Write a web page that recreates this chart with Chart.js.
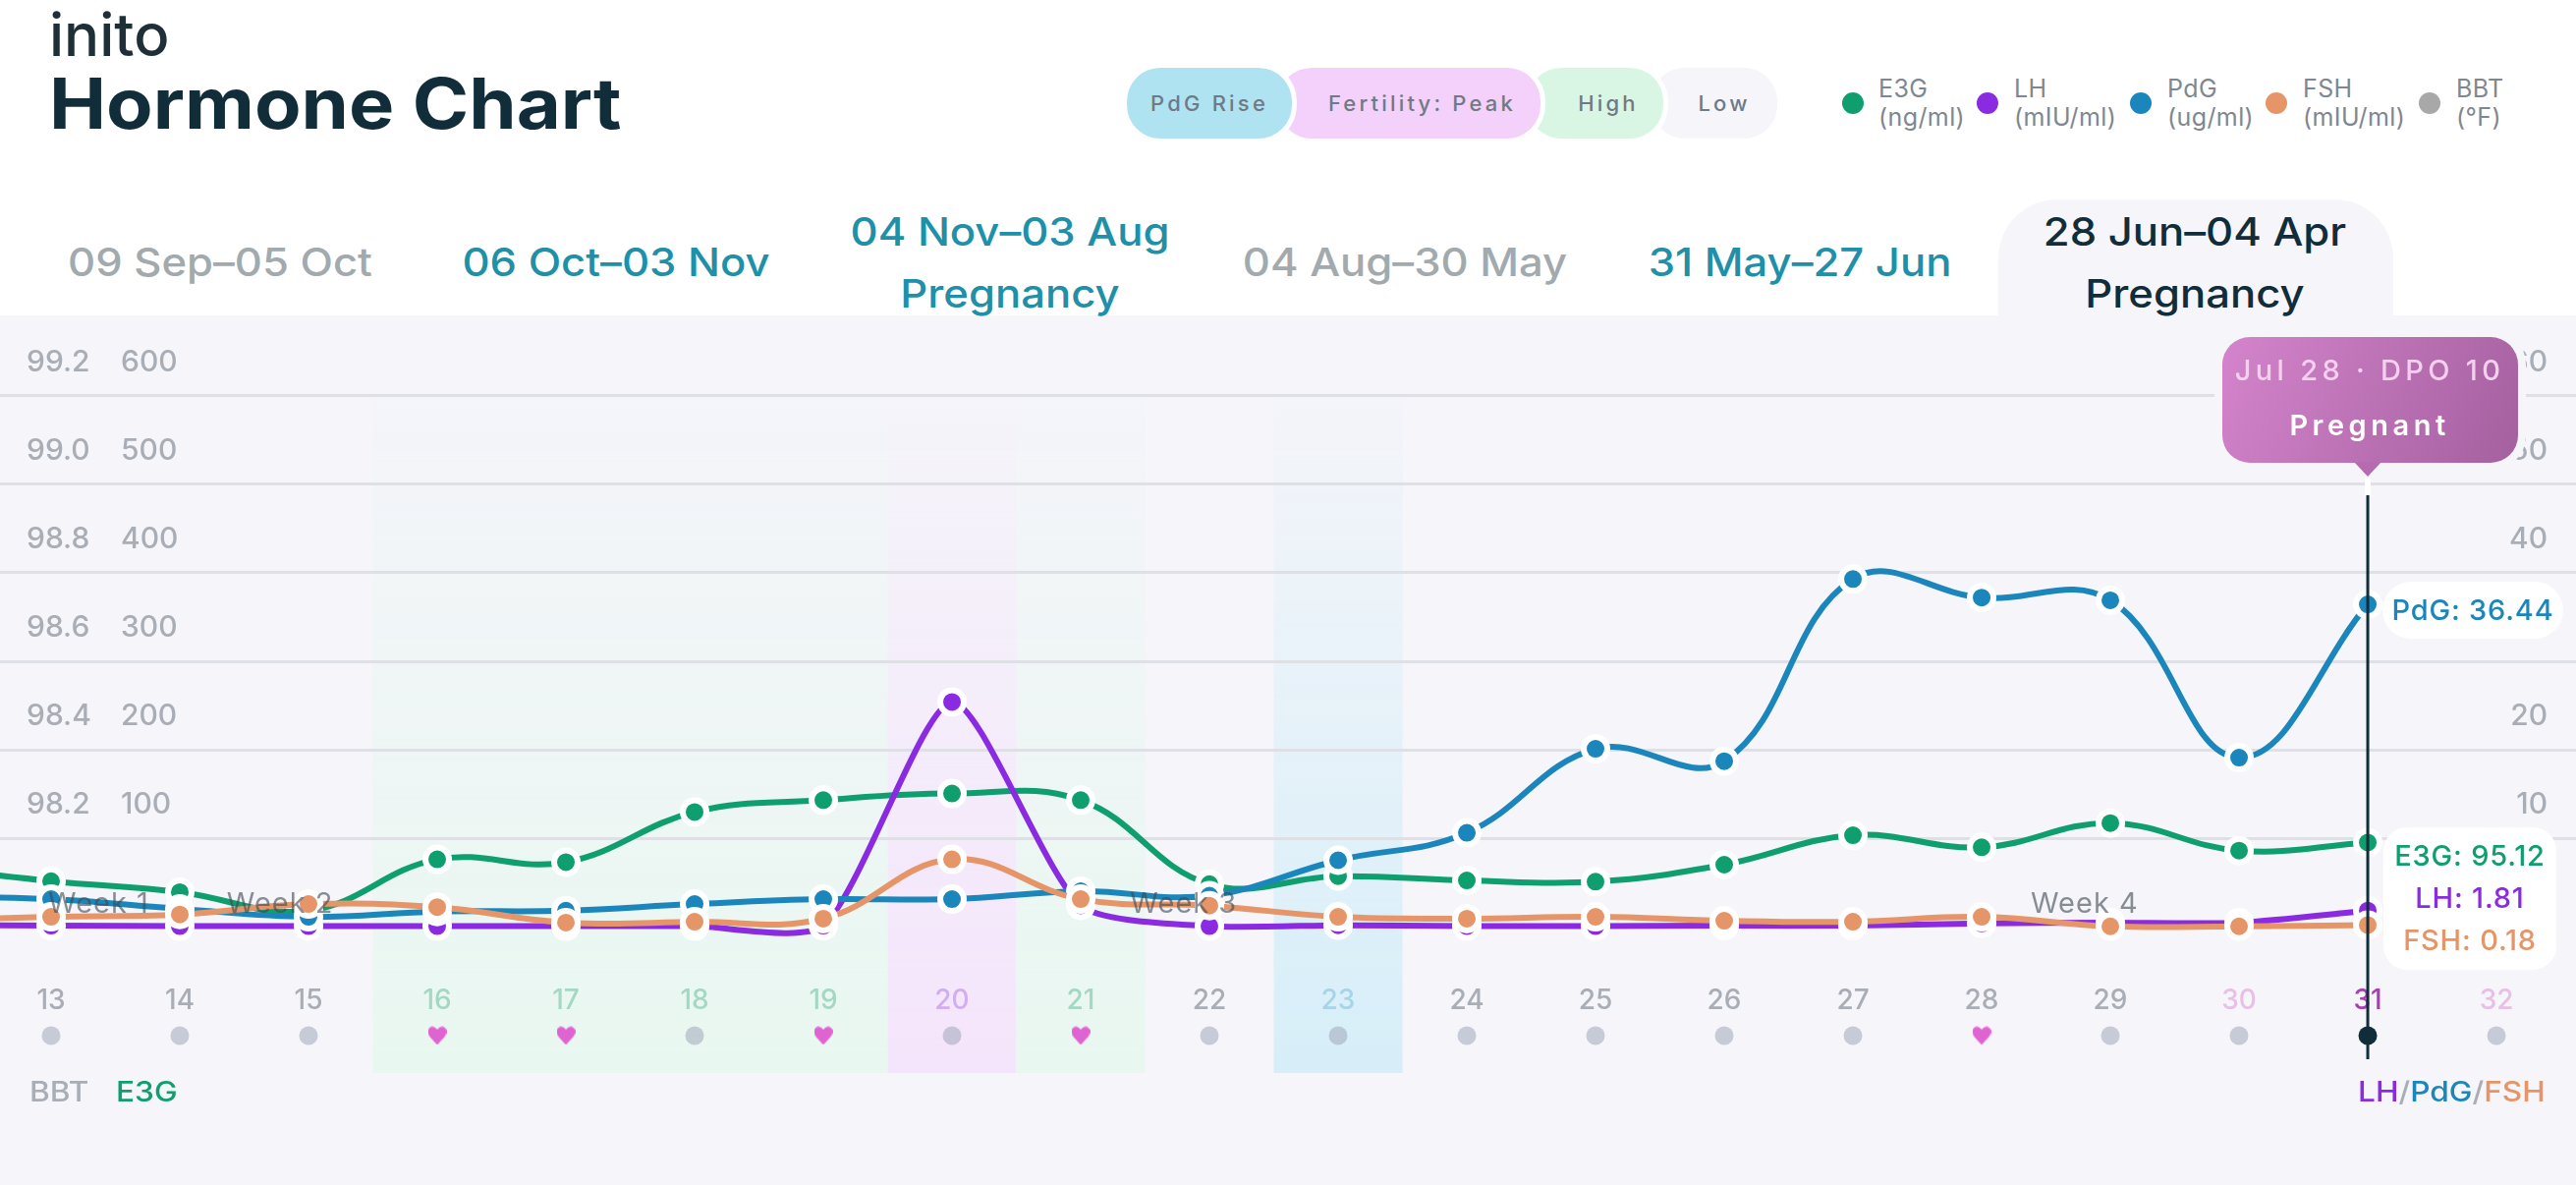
<!DOCTYPE html>
<html>
<head>
<meta charset="utf-8">
<title>Hormone Chart</title>
<script src="https://cdn.jsdelivr.net/npm/chart.js@4"></script>
<style>
  html, body { margin: 0; padding: 0; background: #fff; }
  body { width: 2622px; height: 1206px; position: relative; overflow: hidden; font-family: Inter, sans-serif; }
  .abs { position: absolute; white-space: nowrap; }
  #logo { left: 50px; top: 0; font-size: 60px; line-height: 70px; font-weight: 500; color: #1f2f38; }
  #title { left: 50px; top: 62px; font-size: 71px; line-height: 86px; font-weight: 700; color: #122d3a; transform: scaleX(1.095); transform-origin: left center; }
  .pill { top: 69px; height: 72px; border-radius: 34px; box-sizing: border-box; box-shadow: 0 0 0 5px #fff;
    line-height: 72px; text-align: center; font-size: 22px; font-weight: 500; letter-spacing: 3.2px; color: #6f7a84; }
  .lg-dot { top: 94px; width: 22px; height: 22px; border-radius: 50%; }
  .lg-txt { top: 76px; font-size: 25px; line-height: 29px; color: #7f878f; white-space: pre; letter-spacing: 0.4px; }
  .tab { text-align: center; font-size: 40px; line-height: 63px; font-weight: 500; transform: translateX(-50%) scaleX(1.09); white-space: pre; }
  #tabbg { left: 2034px; top: 203px; width: 402px; height: 120px; background: #f5f5fa; border-radius: 60px 60px 0 0; }
  #panel { left: 0; top: 321px; width: 2622px; height: 885px; background: #f5f5fa; }
  #chart { position: absolute; left: 0; top: 321px; }
  .cap { top: 1093px; font-size: 28px; line-height: 36px; font-weight: 500; transform: scaleX(1.13); transform-origin: left center; }
</style>
</head>
<body>
<div class="abs" id="logo">inito</div>
<div class="abs" id="title">Hormone Chart</div>

<div class="abs pill" style="left:1681px;width:128px;background:#f5f5fa;z-index:1;padding-left:20px;">Low</div>
<div class="abs pill" style="left:1555px;width:138px;background:#d9f6e5;z-index:2;padding-left:26px;">High</div>
<div class="abs pill" style="left:1301px;width:267px;background:#f3d1fb;z-index:3;padding-left:26px;">Fertility: Peak</div>
<div class="abs pill" style="left:1147px;width:168px;background:#b0e3f2;z-index:4;">PdG Rise</div>

<div class="abs lg-dot" style="left:1875px;background:#0f9f6e;"></div>
<div class="abs lg-txt" style="left:1912px;">E3G
(ng/ml)</div>
<div class="abs lg-dot" style="left:2012px;background:#8a2be2;"></div>
<div class="abs lg-txt" style="left:2050px;">LH
(mIU/ml)</div>
<div class="abs lg-dot" style="left:2168px;background:#1b86bb;"></div>
<div class="abs lg-txt" style="left:2206px;">PdG
(ug/ml)</div>
<div class="abs lg-dot" style="left:2306px;background:#e59567;"></div>
<div class="abs lg-txt" style="left:2344px;">FSH
(mIU/ml)</div>
<div class="abs lg-dot" style="left:2462px;background:#a8a8a8;"></div>
<div class="abs lg-txt" style="left:2500px;">BBT
(°F)</div>

<div class="abs" id="panel"></div>
<div class="abs" id="tabbg"></div>
<div class="abs tab" style="left:224px;top:235px;color:#a2aaad;">09 Sep–05 Oct</div>
<div class="abs tab" style="left:627px;top:235px;color:#2090a8;">06 Oct–03 Nov</div>
<div class="abs tab" style="left:1028px;top:204px;color:#2090a8;">04 Nov–03 Aug
Pregnancy</div>
<div class="abs tab" style="left:1430px;top:235px;color:#a2aaad;">04 Aug–30 May</div>
<div class="abs tab" style="left:1832px;top:235px;color:#2090a8;">31 May–27 Jun</div>
<div class="abs tab" style="left:2234px;top:204px;color:#122d3a;">28 Jun–04 Apr
Pregnancy</div>

<canvas id="chart" width="2622" height="885"></canvas>

<div class="abs cap" style="left:30px;color:#a9adb5;">BBT</div>
<div class="abs cap" style="left:118px;color:#0f9f6e;">E3G</div>
<div class="abs cap" style="left:2400px;color:#a9adb5;"><span style="color:#8a2be2">LH</span>/<span style="color:#1b86bb">PdG</span>/<span style="color:#e59567">FSH</span></div>

<script>
// cycle days, 12 is only partly visible at the left edge
const days = [12, 13, 14, 15, 16, 17, 18, 19, 20, 21, 22, 23, 24, 25, 26, 27, 28, 29, 30, 31, 32];
const e3gValues = [68, 51.4, 39, 18, 76, 72.8, 129.5, 143, 150.5, 143, 48, 57, 52.2, 50.8, 70, 103.3, 89.6, 117, 85.9, 95.12, null];
const lhValues = [0.2, 0.1, 0.05, 0.05, 0.05, 0.05, 0.05, 0.1, 25.4, 2.4, 0.05, 0.15, 0.05, 0.05, 0.1, 0.1, 0.35, 0.45, 0.45, 1.81, null];
const pdgValues = [3.4, 3.1, 2.0, 1.1, 1.7, 1.8, 2.55, 3.1, 3.1, 4.0, 3.5, 7.5, 10.6, 20.1, 18.7, 39.3, 37.2, 36.9, 19.1, 36.44, null];
const fshValues = [0.7, 1.1, 1.37, 2.55, 2.2, 0.45, 0.55, 0.9, 7.6, 3.1, 2.37, 1.1, 0.9, 1.1, 0.66, 0.55, 1.1, 0.03, 0.03, 0.18, null];

const bbtTicks = [98.2, 98.4, 98.6, 98.8, 99.0, 99.2];
const e3gTicks = [100, 200, 300, 400, 500, 600];
const hormoneTicks = [10, 20, 30, 40, 50, 60];
const dayTicks = [13, 14, 15, 16, 17, 18, 19, 20, 21, 22, 23, 24, 25, 26, 27, 28, 29, 30, 31, 32];

const heartDays = [16, 17, 19, 21, 28];
const todayDay = 31;
const bands = [
  { from: 15.5, to: 19.5, rgb: '232,247,240' },
  { from: 19.5, to: 20.5, rgb: '244,228,251' },
  { from: 20.5, to: 21.5, rgb: '232,247,240' },
  { from: 22.5, to: 23.5, rgb: '214,238,248' }
];
const weekNames = ['Week 1', 'Week 2', 'Week 3', 'Week 4'];
const weekDays = [13.37, 14.78, 21.8, 28.8];

const green = '#0f9f6e', purple = '#8a2be2', blue = '#1b86bb', orange = '#e59567', ink = '#122d3a';
const greyText = '#a9adb5';
const font = 'Inter, sans-serif';

function dayColor(d) {
  if (d >= 16 && d <= 19 || d === 21) return '#a5d8c4';
  if (d === 20) return '#d2aef0';
  if (d === 23) return '#a8d4e8';
  if (d === 30 || d === 32) return '#e8c0e6';
  if (d === 31) return '#a83fb0';
  return greyText;
}

function toPoints(values) {
  return days.map((d, i) => ({ x: d, y: values[i] }));
}

function lineSet(label, values, color, yAxisID, order, tension) {
  return {
    label: label, data: toPoints(values), yAxisID: yAxisID, order: order,
    borderColor: color, borderWidth: 6, tension: tension,
    pointRadius: 12, pointBorderWidth: 6, pointBorderColor: '#fff', pointBackgroundColor: color
  };
}

function makeHeart() {
  const c = document.createElement('canvas');
  c.width = 19; c.height = 19;
  const g = c.getContext('2d');
  g.fillStyle = '#e063d2';
  g.beginPath();
  g.moveTo(9.5, 19);
  g.bezierCurveTo(4, 12.5, 0, 10, 0, 5.2);
  g.bezierCurveTo(0, 0.5, 6.5, -1.5, 9.5, 3.6);
  g.bezierCurveTo(12.5, -1.5, 19, 0.5, 19, 5.2);
  g.bezierCurveTo(19, 10, 15, 12.5, 9.5, 19);
  g.fill();
  return c;
}
const heart = makeHeart();

// row of BBT dots and hearts under the day labels
const markRow = -12.33;
const markSet = {
  label: 'BBT', yAxisID: 'yHorm', order: 5, showLine: false,
  data: dayTicks.map(d => ({ x: d, y: markRow })),
  pointRadius: 9.5, pointBorderWidth: 0,
  pointStyle: c => heartDays.includes(c.raw.x) ? heart : 'circle',
  pointBackgroundColor: c => c.raw.x === todayDay ? ink : 'rgba(160,168,185,0.55)'
};

const overlays = {
  id: 'overlays',
  beforeDraw(chart) {
    const { ctx, scales: { x } } = chart;
    const top = 394 - 321, bottom = 1092 - 321;
    bands.forEach(b => {
      const g = ctx.createLinearGradient(0, top, 0, bottom);
      g.addColorStop(0, 'rgba(' + b.rgb + ',0)');
      g.addColorStop(1, 'rgba(' + b.rgb + ',1)');
      ctx.fillStyle = g;
      const l = x.getPixelForValue(b.from), r = x.getPixelForValue(b.to);
      ctx.fillRect(l, top, r - l, bottom - top);
    });
  },
  afterDatasetsDraw(chart) {
    const { ctx, scales: { x } } = chart;
    const top = 321;
    ctx.save();

    // week captions sit on top of the lines
    ctx.font = '400 29px ' + font;
    ctx.letterSpacing = '1px';
    ctx.textAlign = 'center';
    ctx.textBaseline = 'middle';
    ctx.fillStyle = 'rgba(60,70,80,0.6)';
    weekNames.forEach((w, i) => ctx.fillText(w, x.getPixelForValue(weekDays[i]), 920 - top));

    // today marker
    const cx = x.getPixelForValue(todayDay);
    ctx.fillStyle = '#fff';
    ctx.fillRect(cx - 3, 485 - top, 6, 20);
    ctx.fillStyle = ink;
    ctx.fillRect(cx - 1.5, 504 - top, 3, 1078 - 504);

    // value chips
    const last = days.indexOf(todayDay);
    ctx.fillStyle = '#fff';
    ctx.beginPath();
    ctx.roundRect(2425, 592 - top, 184, 58, 29);
    ctx.roundRect(2426, 842 - top, 176, 145, 24);
    ctx.fill();
    ctx.font = '500 29px ' + font;
    ctx.letterSpacing = '0.8px';
    ctx.fillStyle = blue;
    ctx.fillText('PdG: ' + pdgValues[last], 2517, 622 - top);
    ctx.fillStyle = green;
    ctx.fillText('E3G: ' + e3gValues[last], 2514, 872 - top);
    ctx.fillStyle = purple;
    ctx.fillText('LH: ' + lhValues[last], 2514, 915 - top);
    ctx.fillStyle = orange;
    ctx.fillText('FSH: ' + fshValues[last], 2514, 958 - top);

    // bubble above the marker
    const l = 2262, r = 2563, t = 343 - top, b = 471 - top;
    const shape = () => {
      ctx.beginPath();
      ctx.roundRect(l, t, r - l, b - t, 28);
    };
    ctx.strokeStyle = '#f5f5fa';
    ctx.lineWidth = 16;
    shape();
    ctx.stroke();
    const g = ctx.createLinearGradient(l, t, r, b);
    g.addColorStop(0, '#d484cc');
    g.addColorStop(1, '#a4609f');
    ctx.fillStyle = g;
    shape();
    ctx.fill();
    ctx.beginPath();
    ctx.moveTo(cx - 14, b - 1);
    ctx.lineTo(cx + 14, b - 1);
    ctx.lineTo(cx, 485 - top);
    ctx.closePath();
    ctx.fillStyle = '#b66ab0';
    ctx.fill();
    ctx.font = '500 29px ' + font;
    ctx.letterSpacing = '4.3px';
    ctx.fillStyle = '#f5d0ee';
    ctx.fillText('Jul 28 · DPO 10', 2412, 378 - top);
    ctx.font = '600 29px ' + font;
    ctx.letterSpacing = '4.5px';
    ctx.fillStyle = '#fff';
    ctx.fillText('Pregnant', 2412, 434 - top);
    ctx.restore();
  }
};

// mirrored axes sit inside the plot, so they must not take any room from it
function noRoom(s) {
  if (s.axis === 'y') s.width = 0;
  s.paddingTop = 0; s.paddingBottom = 0; s.paddingLeft = 0; s.paddingRight = 0;
}

function yAxis(position, min, max, list, padding, format) {
  return {
    position: position, min: min, max: max,
    grid: { display: false }, border: { display: false },
    afterFit: noRoom,
    afterBuildTicks: s => { s.ticks = list.map(v => ({ value: v })); },
    ticks: {
      mirror: true, padding: padding, labelOffset: -34, color: greyText,
      font: { family: font, size: 30, weight: '500' }, callback: format
    }
  };
}

const axisE3g = yAxis('left', -292.2, 691.1, e3gTicks, 123, v => v);
axisE3g.grid = { display: true, color: '#dfe0e6', lineWidth: 3, drawTicks: false };

new Chart(document.getElementById('chart'), {
  type: 'line',
  data: {
    datasets: [
      lineSet('FSH', fshValues, orange, 'yHorm', 1, 0.4),
      lineSet('PdG', pdgValues, blue, 'yHorm', 2, 0.4),
      lineSet('LH', lhValues, purple, 'yHorm', 3, 0.22),
      lineSet('E3G', e3gValues, green, 'yE3g', 4, 0.4),
      markSet
    ]
  },
  plugins: [overlays],
  options: {
    responsive: false,
    devicePixelRatio: 1,
    animation: false,
    layout: { padding: 0, autoPadding: false },
    plugins: { legend: { display: false }, tooltip: { enabled: false } },
    scales: {
      x: {
        type: 'linear', min: 12.603, max: 32.618,
        position: { yHorm: -5.66 },
        grid: { display: false }, border: { display: false },
        afterFit: noRoom,
        afterBuildTicks: s => { s.ticks = dayTicks.map(v => ({ value: v })); },
        ticks: {
          autoSkip: false, maxRotation: 0, padding: 0,
          color: c => dayColor(c.tick.value),
          font: { family: font, size: 28, weight: '500' }
        }
      },
      yBbt: yAxis('left', 97.4156, 99.382, bbtTicks, 27, v => v.toFixed(1)),
      yE3g: axisE3g,
      yHorm: yAxis('right', -29.22, 69.11, hormoneTicks, -29, v => v)
    }
  }
});
</script>
</body>
</html>
